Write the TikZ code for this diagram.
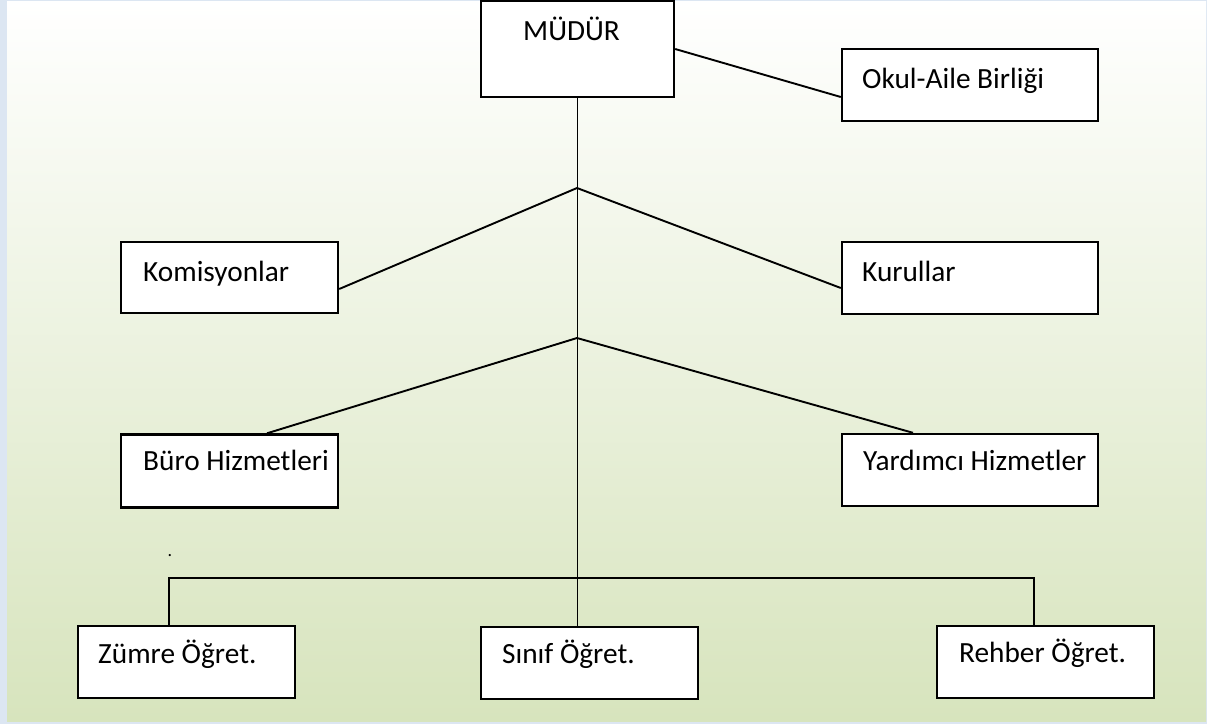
\documentclass[tikz,border=0pt]{standalone}
\usepackage{fontspec}
\setmainfont{Carlito}
\usetikzlibrary{calc}
\definecolor{bordercol}{RGB}{220,230,242}
\definecolor{greenbot}{RGB}{215,228,189}
\begin{document}
\begin{tikzpicture}[x=1pt,y=-1pt,
  box/.style={draw=black, line width=2.4pt, fill=white, rectangle, inner sep=0pt},
  lbl/.style={anchor=base west, inner sep=0pt, font=\fontsize{29.3}{34}\selectfont},
  conn/.style={line width=1.9pt}]
\fill[bordercol] (0,0) rectangle (1207,724);
\shade[top color=white, bottom color=greenbot] (7,1.3) rectangle (1206,721);
\useasboundingbox (0,0) rectangle (1207,724);

\node[box, minimum width=193pt, minimum height=96pt] (mudur) at (577.5,49) {};
\node[box, minimum width=256pt, minimum height=72pt] (okul) at (970,85) {};
\node[box, minimum width=217pt, minimum height=71pt] (kom) at (229.5,277.5) {};
\node[box, minimum width=256pt, minimum height=72pt] (kur) at (970,278) {};
\node[box, minimum width=217pt, minimum height=73pt] (buro) at (229.5,471) {};
\node[box, minimum width=256pt, minimum height=72pt] (yard) at (970,470) {};
\node[box, minimum width=217pt, minimum height=72pt] (zumre) at (186.5,662) {};
\node[box, minimum width=217pt, minimum height=72pt] (sinif) at (589.5,663) {};
\node[box, minimum width=217pt, minimum height=72pt] (rehber) at (1045.5,662) {};

\node[lbl] (tmudur) at (523,40) {MÜDÜR};
\node[lbl] (tokul) at (862,88) {Okul-Aile Birliği};
\node[lbl] (tkom) at (143,281) {Komisyonlar};
\node[lbl] (tkur) at (862,281) {Kurullar};
\node[lbl] (tburo) at (143,470) {Büro Hizmetleri};
\node[lbl] (tyard) at (863,470.5) {Yardımcı Hizmetler};
\node[lbl] (tzumre) at (98,663) {Zümre Öğret.};
\node[lbl] (tsinif) at (502,663) {Sınıf Öğret.};
\node[lbl] (trehber) at (959,662) {Rehber Öğret.};
\node[anchor=base, inner sep=0pt, font=\fontsize{18}{20}\selectfont] (dot) at (170,556) {.};

\coordinate (j1) at (577,188);
\coordinate (j2) at (577,338);
\coordinate (j3) at (577,578);

\draw[conn] (mudur.east) -- ([yshift=-12pt]okul.west);
\draw[conn] (mudur.south) -- (mudur.south |- sinif.north);
\draw[conn] ([yshift=-11.5pt]kom.east) -- (j1) -- ([yshift=-10pt]kur.west);
\draw[conn] ([xshift=37.5pt]buro.north) -- (j2) -- ([xshift=-57pt]yard.north);
\draw[conn] ([xshift=-17.5pt]zumre.north) |- (j3) -| ([xshift=-11.5pt]rehber.north);
\end{tikzpicture}
\end{document}
